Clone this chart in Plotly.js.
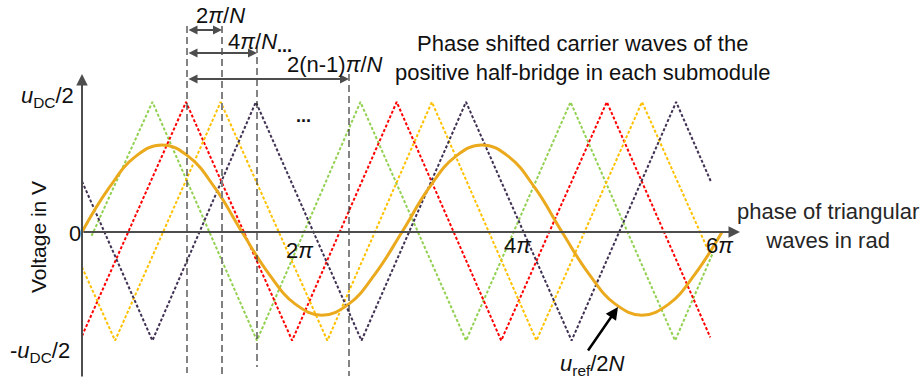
<!DOCTYPE html>
<html>
<head>
<meta charset="utf-8">
<script src="https://cdn.plot.ly/plotly-3.0.1.min.js"></script>
<style>
  html, body { margin: 0; padding: 0; background: #ffffff; }
  #chart { width: 923px; height: 380px; }
</style>
</head>
<body>
<div id="chart"></div>
<script>
// Phase in multiples of pi, voltage normalised to u_DC/2.

// Carrier 1 (green)
const carrier1Phase = [0.09, 0.66, 1.64, 2.61, 3.60, 4.58, 5.56, 5.92];
const carrier1Volt  = [-0.03, 1.00, -0.835, 1.00, -0.835, 1.00, -0.835, -0.15];
// Carrier 2 (red)
const carrier2Phase = [0.00, 0.975, 1.97, 2.95, 3.93, 4.92, 5.89];
const carrier2Volt  = [-0.80, 1.00, -0.835, 1.00, -0.835, 1.00, -0.81];
// Carrier 3 (yellow)
const carrier3Phase = [0.00, 0.31, 1.30, 2.30, 3.28, 4.26, 5.25, 5.87];
const carrier3Volt  = [-0.27, -0.835, 1.00, -0.835, 1.00, -0.835, 1.00, -0.14];
// Carrier 4 (dark purple)
const carrier4Phase = [0.00, 0.66, 1.63, 2.62, 3.60, 4.59, 5.57, 5.90];
const carrier4Volt  = [0.39, -0.835, 1.00, -0.835, 1.00, -0.835, 1.00, 0.38];

// Reference wave u_ref/2N
const refPhase = [0, 0.25, 0.5, 0.75, 1, 1.25, 1.5, 1.75, 2, 2.25, 2.5, 2.75, 3,
                  3.25, 3.5, 3.75, 4, 4.25, 4.5, 4.75, 5, 5.25, 5.5, 5.75, 6];
const refVolt  = [0, 0.335, 0.58, 0.67, 0.58, 0.335, 0, -0.32, -0.555, -0.64, -0.555, -0.32, 0,
                  0.335, 0.58, 0.67, 0.58, 0.335, 0, -0.32, -0.555, -0.64, -0.555, -0.32, 0];

// Phase-axis tick labels
const tickVals = [2, 4, 6];
const tickText = ['2<i>π</i>', '4<i>π</i>', '6<i>π</i>'];

// ---- geometry helpers (pixel -> data) ----
const W = 923, H = 380;
const ORIGIN_X = 82, ORIGIN_Y = 232;
const PX_PER_PI = 106.67, PX_PER_UNIT = 130;
const X = px => (px - ORIGIN_X) / PX_PER_PI;
const Y = py => (ORIGIN_Y - py) / PX_PER_UNIT;

const FONT = 'Liberation Sans, Arial, sans-serif';
const AXIS_COLOR = '#4d4d4d';
const FS = 22;

function carrier(xs, ys, color) {
  return {
    x: xs, y: ys, type: 'scatter', mode: 'lines',
    line: { color: color, width: 2, dash: '3px,2px' },
    hoverinfo: 'skip', showlegend: false
  };
}

const traces = [
  carrier(carrier1Phase, carrier1Volt, '#92D050'),
  carrier(carrier2Phase, carrier2Volt, '#FF0000'),
  carrier(carrier3Phase, carrier3Volt, '#FFC000'),
  carrier(carrier4Phase, carrier4Volt, '#403152'),
  {
    x: refPhase, y: refVolt, type: 'scatter', mode: 'lines',
    line: { color: '#EBAA1E', width: 3, shape: 'spline', smoothing: 1.2 },
    hoverinfo: 'skip', showlegend: false
  }
];

// Dashed marker lines: [x px, top px, bottom px, color, width]
const markers = [
  [187, 26, 373, '#333333', 1.2],
  [222, 26, 375, '#808080', 2],
  [257, 46, 367, '#333333', 1.2],
  [349, 74, 376, '#333333', 1.2]
];
const shapes = markers.map(m => ({
  type: 'line', xref: 'x', yref: 'y',
  x0: X(m[0]), x1: X(m[0]), y0: Y(m[1]), y1: Y(m[2]),
  line: { color: m[3], width: m[4], dash: '7px,4px' },
  layer: 'above'
}));

function txt(text, px, py, size, extra) {
  return Object.assign({
    text: text, x: X(px), y: Y(py), xref: 'x', yref: 'y',
    showarrow: false, xanchor: 'center', yanchor: 'middle',
    font: { family: FONT, size: size, color: '#111111' }
  }, extra || {});
}

function arrow(x0, y0, x1, y1, opts) {
  return Object.assign({
    text: '', x: X(x1), y: Y(y1), ax: X(x0), ay: Y(y0),
    xref: 'x', yref: 'y', axref: 'x', ayref: 'y',
    showarrow: true, arrowhead: 2, arrowsize: 1, arrowwidth: 2,
    arrowcolor: AXIS_COLOR, standoff: 0, startstandoff: 0
  }, opts || {});
}

const tickOffsets = [[5, -18], [9, -13], [-2, -13]];

const annotations = [
  // axes
  arrow(82, 378, 82, 74, { arrowsize: 1.15 }),
  arrow(82, 232, 740, 232, { arrowsize: 1.15 }),
  // phase-shift dimension arrows
  arrow(187, 30, 222, 30, { arrowside: 'end+start', arrowsize: 0.9 }),
  arrow(187, 53, 257, 53, { arrowside: 'end+start', arrowsize: 0.9 }),
  arrow(187, 79, 349, 79, { arrowside: 'end+start', arrowsize: 0.9 }),
  txt('2<i>π</i>/<i>N</i>', 220, 15, FS),
  txt('4<i>π</i>/<i>N</i>', 252, 41, FS),
  txt('<b>...</b>', 284, 46, 18),
  txt('2(n-1)<i>π</i>/<i>N</i>', 335, 64, FS),
  txt('<b>...</b>', 303, 116, 18),
  txt('Phase shifted carrier waves of the<br>positive half-bridge in each submodule', 582, 58, FS),
  txt('phase of triangular<br>waves in rad', 828, 226, FS, { font: { family: FONT, size: FS, color: '#262626' } }),
  txt('Voltage in V', 38, 237, 21, { textangle: -90 }),
  txt('0', 75, 233, FS),
  txt('<i>u</i><sub>DC</sub>/2', 47, 97, FS),
  txt('-<i>u</i><sub>DC</sub>/2', 40, 352, FS),
  // reference wave label
  arrow(587, 352, 618, 307, { arrowcolor: '#000000', arrowwidth: 2.5, arrowsize: 1 }),
  txt('<i>u</i><sub>ref</sub>/2<i>N</i>', 592, 365, FS)
];

tickVals.forEach((v, i) => {
  annotations.push({
    text: tickText[i], x: v, y: 0, xref: 'x', yref: 'y',
    xshift: tickOffsets[i][0], yshift: tickOffsets[i][1],
    showarrow: false, xanchor: 'center', yanchor: 'middle',
    font: { family: FONT, size: FS, color: '#111111' }
  });
});

const layout = {
  width: W, height: H, autosize: false,
  margin: { l: 0, r: 0, t: 0, b: 0, pad: 0 },
  paper_bgcolor: '#ffffff', plot_bgcolor: '#ffffff',
  xaxis: { range: [X(0), X(W)], visible: false, fixedrange: true },
  yaxis: { range: [Y(H), Y(0)], visible: false, fixedrange: true },
  shapes: shapes,
  annotations: annotations,
  showlegend: false
};

Plotly.newPlot('chart', traces, layout, { displayModeBar: false, staticPlot: true });
</script>
</body>
</html>
